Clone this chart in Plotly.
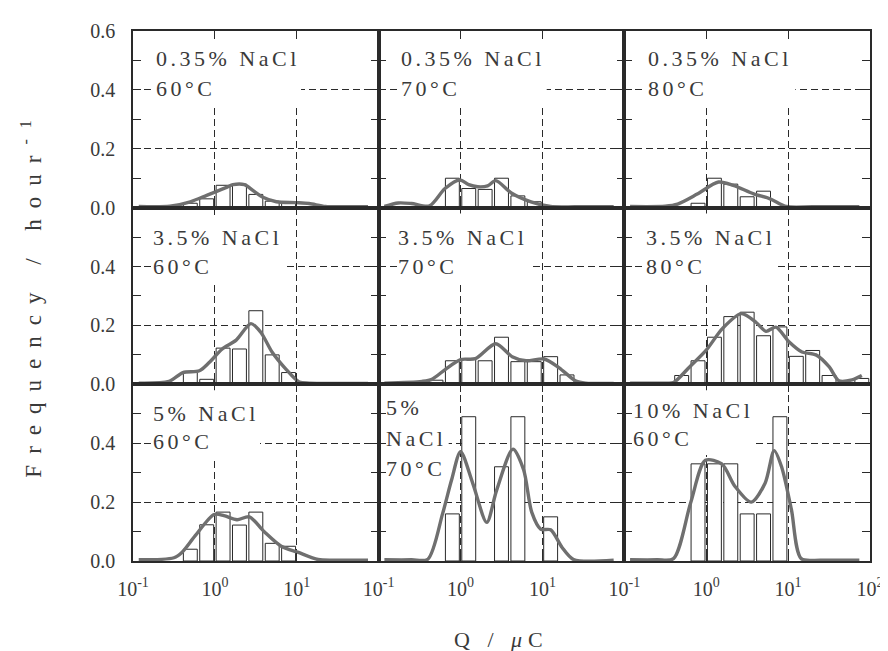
import plotly.graph_objects as go
from plotly.subplots import make_subplots

# ---------------- data (log10 Q in µC, frequency in 1/hour) ----------------
# panel labels (row-major)
label_line1 = ["0.35% NaCl", "0.35% NaCl", "0.35% NaCl",
               "3.5% NaCl", "3.5% NaCl", "3.5% NaCl",
               "5% NaCl", "5%", "10% NaCl"]
label_line2 = ["60°C", "70°C", "80°C",
               "60°C", "70°C", "80°C",
               "60°C", "NaCl", "60°C"]
label_line3 = ["", "", "", "", "", "", "", "70°C", ""]

# histogram bars: bin centres (log10 Q) and heights
bar_logq_035_60 = [-0.3, -0.1, 0.1, 0.3, 0.5, 0.7, 0.9]
bar_freq_035_60 = [0.015, 0.03, 0.076, 0.08, 0.045, 0.022, 0.02]
bar_logq_035_70 = [-0.1, 0.1, 0.3, 0.5, 0.7, 0.9]
bar_freq_035_70 = [0.10, 0.065, 0.062, 0.10, 0.04, 0.02]
bar_logq_035_80 = [-0.1, 0.1, 0.3, 0.5, 0.7]
bar_freq_035_80 = [0.015, 0.10, 0.08, 0.037, 0.056]
bar_logq_35_60 = [-0.3, -0.1, 0.1, 0.3, 0.5, 0.7, 0.9]
bar_freq_35_60 = [0.04, 0.017, 0.123, 0.12, 0.25, 0.10, 0.04]
bar_logq_35_70 = [-0.3, -0.1, 0.1, 0.3, 0.5, 0.7, 0.9, 1.1, 1.3]
bar_freq_35_70 = [0.014, 0.08, 0.086, 0.08, 0.16, 0.077, 0.077, 0.094, 0.032]
bar_logq_35_80 = [-0.3, -0.1, 0.1, 0.3, 0.5, 0.7, 0.9, 1.1, 1.3, 1.5, 1.7, 1.9]
bar_freq_35_80 = [0.03, 0.08, 0.16, 0.23, 0.245, 0.165, 0.195, 0.095, 0.115, 0.03, 0.006, 0.02]
bar_logq_5_60 = [-0.3, -0.1, 0.1, 0.3, 0.5, 0.7, 0.9]
bar_freq_5_60 = [0.04, 0.123, 0.166, 0.122, 0.166, 0.06, 0.05]
bar_logq_5_70 = [-0.1, 0.1, 0.5, 0.7, 1.1]
bar_freq_5_70 = [0.16, 0.49, 0.32, 0.49, 0.15]
bar_logq_10_60 = [-0.1, 0.1, 0.3, 0.5, 0.7, 0.9]
bar_freq_10_60 = [0.33, 0.33, 0.33, 0.16, 0.16, 0.49]

# smoothed distributions: log10 Q and frequency
curve_logq_035_60 = [-0.93, -0.55, -0.3, -0.1, 0.0, 0.15, 0.22, 0.36, 0.48, 0.58, 0.75, 0.99, 1.15, 1.35, 1.6, 1.87]
curve_freq_035_60 = [0.004, 0.005, 0.02, 0.042, 0.053, 0.07, 0.078, 0.078, 0.055, 0.036, 0.02, 0.017, 0.014, 0.004, 0.003, 0.003]
curve_logq_035_70 = [-0.93, -0.76, -0.6, -0.38, -0.19, -0.01, 0.1, 0.21, 0.33, 0.43, 0.62, 0.86, 1.1, 1.4, 1.87]
curve_freq_035_70 = [0.004, 0.016, 0.014, 0.006, 0.065, 0.094, 0.078, 0.071, 0.074, 0.092, 0.05, 0.02, 0.004, 0.003, 0.003]
curve_logq_035_80 = [-0.93, -0.5, -0.35, -0.11, 0.15, 0.33, 0.58, 0.78, 0.98, 1.3, 1.87]
curve_freq_035_80 = [0.004, 0.005, 0.012, 0.046, 0.087, 0.076, 0.047, 0.03, 0.004, 0.003, 0.003]
curve_logq_35_60 = [-0.93, -0.56, -0.39, -0.19, -0.07, 0.09, 0.26, 0.44, 0.56, 0.70, 0.87, 1.03, 1.15, 1.5, 1.87]
curve_freq_35_60 = [0.004, 0.01, 0.04, 0.046, 0.074, 0.12, 0.15, 0.206, 0.177, 0.109, 0.051, 0.008, 0.004, 0.003, 0.003]
curve_logq_35_70 = [-0.93, -0.47, -0.35, -0.18, 0.0, 0.18, 0.43, 0.63, 0.80, 1.02, 1.2, 1.41, 1.53, 1.87]
curve_freq_35_70 = [0.004, 0.01, 0.017, 0.052, 0.084, 0.087, 0.138, 0.094, 0.08, 0.086, 0.057, 0.011, 0.004, 0.003]
curve_logq_35_80 = [-0.93, -0.5, -0.4, -0.2, 0.0, 0.2, 0.43, 0.61, 0.73, 0.85, 1.01, 1.17, 1.34, 1.5, 1.62, 1.78, 1.9]
curve_freq_35_80 = [0.004, 0.004, 0.006, 0.06, 0.116, 0.19, 0.24, 0.21, 0.18, 0.194, 0.145, 0.11, 0.1, 0.06, 0.012, 0.015, 0.03]
curve_logq_5_60 = [-0.93, -0.5, -0.4, -0.24, -0.01, 0.11, 0.27, 0.42, 0.6, 0.81, 1.01, 1.26, 1.5, 1.87]
curve_freq_5_60 = [0.004, 0.011, 0.03, 0.086, 0.158, 0.154, 0.14, 0.15, 0.10, 0.05, 0.03, 0.005, 0.003, 0.003]
curve_logq_5_70 = [-0.93, -0.6, -0.4, -0.22, -0.11, 0.0, 0.15, 0.32, 0.44, 0.64, 0.77, 0.87, 0.98, 1.1, 1.24, 1.38, 1.87]
curve_freq_5_70 = [0.004, 0.004, 0.006, 0.16, 0.275, 0.371, 0.263, 0.131, 0.24, 0.38, 0.31, 0.165, 0.108, 0.106, 0.046, 0.005, 0.003]
curve_logq_10_60 = [-0.93, -0.6, -0.4, -0.19, -0.01, 0.19, 0.35, 0.55, 0.72, 0.83, 0.92, 1.04, 1.16, 1.4, 1.87]
curve_freq_10_60 = [0.004, 0.004, 0.008, 0.198, 0.342, 0.33, 0.254, 0.2, 0.265, 0.375, 0.32, 0.175, 0.008, 0.003, 0.003]

bars = [(bar_logq_035_60, bar_freq_035_60), (bar_logq_035_70, bar_freq_035_70), (bar_logq_035_80, bar_freq_035_80),
        (bar_logq_35_60, bar_freq_35_60), (bar_logq_35_70, bar_freq_35_70), (bar_logq_35_80, bar_freq_35_80),
        (bar_logq_5_60, bar_freq_5_60), (bar_logq_5_70, bar_freq_5_70), (bar_logq_10_60, bar_freq_10_60)]
curves = [(curve_logq_035_60, curve_freq_035_60), (curve_logq_035_70, curve_freq_035_70), (curve_logq_035_80, curve_freq_035_80),
          (curve_logq_35_60, curve_freq_35_60), (curve_logq_35_70, curve_freq_35_70), (curve_logq_35_80, curve_freq_35_80),
          (curve_logq_5_60, curve_freq_5_60), (curve_logq_5_70, curve_freq_5_70), (curve_logq_10_60, curve_freq_10_60)]

x_tickvals = [0.1, 1, 10, 100]
x_ticktext = ["10<sup>-1</sup>", "10<sup>0</sup>", "10<sup>1</sup>", "10<sup>2</sup>"]
y_tickvals = [0, 0.2, 0.4, 0.6]
y_ticktext = ["0.0", "0.2", "0.4", "0.6"]

# ---------------- style ----------------
FONT = "Liberation Serif"
INK = "#2a2a2a"
TXT = "#3a3a3a"
CURVE = "#6f6f6f"
HALF = 0.085  # half bar width in decades


def spaced(t, px, size):
    return f'<span style="letter-spacing:{px}px;font-size:{size}px">{t}</span>'


fig = make_subplots(rows=3, cols=3, horizontal_spacing=0, vertical_spacing=0)

# text layout per panel: x start (domain fraction), y of lines, mask box
text_x = [0.10, 0.10, 0.105, 0.09, 0.085, 0.098, 0.09, 0.04, 0.045]
text_y = [(0.505, 0.405), (0.505, 0.405), (0.505, 0.405),
          (0.5, 0.4), (0.5, 0.4), (0.5, 0.4),
          (0.5, 0.405), (0.52, 0.417, 0.314), (0.512, 0.417)]
masks = [(0.073, 0.684, 0.344, 0.57), (0.081, 0.684, 0.349, 0.57), (0.085, 0.696, 0.348, 0.57),
         (0.081, 0.62, 0.349, 0.57), (0.077, 0.615, 0.35, 0.58), (0.081, 0.62, 0.348, 0.58),
         (0.073, 0.517, 0.35, 0.58), (0.033, 0.285, 0.28, 0.56), (0.041, 0.53, 0.36, 0.58)]

annotations = []
shapes = []
for i in range(9):
    r, c = i // 3 + 1, i % 3 + 1
    n = i + 1
    xs, ys = [], []
    for lq, v in zip(*bars[i]):
        x0, x1 = 10 ** (lq - HALF), 10 ** (lq + HALF)
        xs += [x0, x0, x1, x1, x0, None]
        ys += [0, v, v, 0, 0, None]
    fig.add_trace(go.Scatter(x=xs, y=ys, mode="lines", fill="toself", fillcolor="white",
                             line=dict(color=INK, width=1), hoverinfo="skip", showlegend=False),
                  row=r, col=c)
    cl, cf = curves[i]
    fig.add_trace(go.Scatter(x=[10 ** v for v in cl], y=cf, mode="lines",
                             line=dict(color=CURVE, width=3.4, shape="spline", smoothing=0.8),
                             showlegend=False),
                  row=r, col=c)
    sfx = "" if n == 1 else str(n)
    lines = [label_line1[i], label_line2[i], label_line3[i]]
    for k, yy in enumerate(text_y[i]):
        annotations.append(dict(text=spaced(lines[k], 3.5, 22), x=text_x[i], y=yy,
                                xref=f"x{sfx} domain", yref=f"y{sfx}", xshift=-4,
                                xanchor="left", yanchor="middle", showarrow=False,
                                font=dict(family=FONT, size=22, color=TXT)))
    mx0, mx1, my0, my1 = masks[i]
    shapes.append(dict(type="rect", xref=f"x{sfx} domain", yref=f"y{sfx}",
                       x0=mx0, x1=mx1, y0=my0, y1=my1, layer="above",
                       fillcolor="white", line=dict(width=0)))

    # axes
    if r == 3:
        if c < 3:
            xv, tt = x_tickvals[:3], x_ticktext[:3]
        else:
            xv, tt = x_tickvals, x_ticktext
        showx = True
    else:
        xv, tt = x_tickvals, x_ticktext
        showx = False
    fig.update_xaxes(type="log", range=[-1, 2], tickvals=xv, ticktext=tt,
                     showticklabels=showx, ticks="inside", ticklen=8, tickwidth=1, tickcolor=INK,
                     showline=True, linecolor=INK, linewidth=1.5, mirror="ticks",
                     showgrid=True, gridcolor=INK, gridwidth=1, griddash="7px,4px",
                     tickfont=dict(family=FONT, size=20, color=TXT), ticklabelstandoff=9,
                     zeroline=False, row=r, col=c)
    if c == 1 and r > 1:
        yv, yt = y_tickvals[:3], y_ticktext[:3]
    else:
        yv, yt = y_tickvals, y_ticktext
    fig.update_yaxes(range=[0, 0.6], tickvals=yv, ticktext=yt, showticklabels=(c == 1),
                     ticks="inside", ticklen=8, tickwidth=1, tickcolor=INK,
                     minor=dict(dtick=0.1, tick0=0, ticks="inside", ticklen=8, tickcolor=INK, showgrid=False),
                     showline=True, linecolor=INK, linewidth=1.5, mirror="ticks",
                     showgrid=True, gridcolor=INK, gridwidth=1, griddash="7px,4px",
                     tickfont=dict(family=FONT, size=20, color=TXT), ticklabelstandoff=12,
                     zeroline=False, row=r, col=c)

annotations.append(dict(text=spaced("Frequency / hour<sup>-1</sup>", 11, 23), x=-0.138, y=0.505,
                        xref="paper", yref="paper", textangle=-90, showarrow=False,
                        xanchor="center", yanchor="middle",
                        font=dict(family=FONT, size=23, color=TXT)))
annotations.append(dict(text=spaced("Q / <i>μ</i>C", 6, 22), x=0.5, y=-0.148,
                        xref="paper", yref="paper", showarrow=False,
                        xanchor="center", yanchor="middle",
                        font=dict(family=FONT, size=22, color=TXT)))

fig.update_layout(width=888, height=651, margin=dict(l=125, r=26, t=20, b=98),
                  paper_bgcolor="white", plot_bgcolor="white",
                  annotations=annotations, shapes=shapes, showlegend=False)

fig.write_html("out.html")
